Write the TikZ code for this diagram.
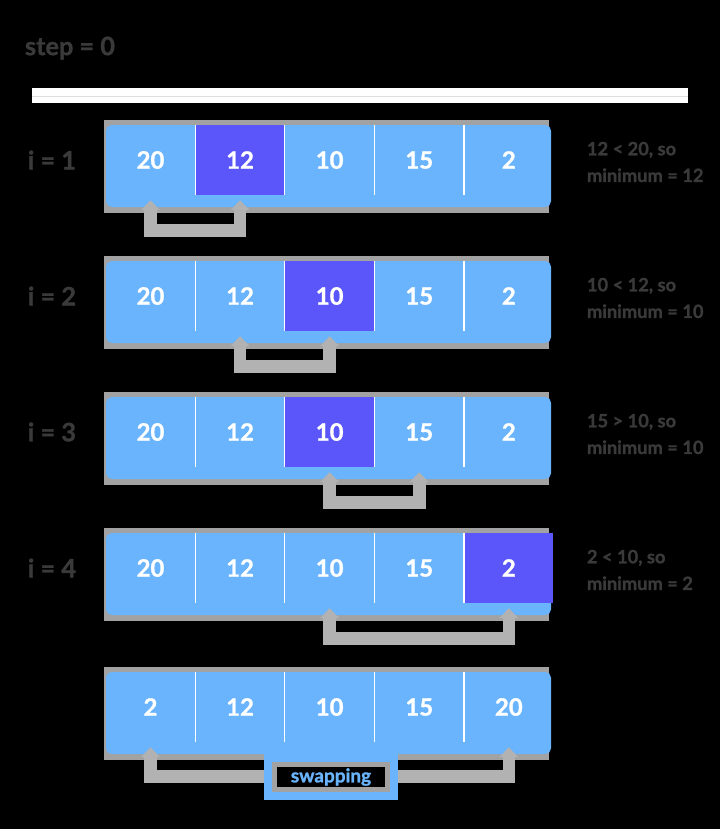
\documentclass[tikz,border=0pt]{standalone}
\usepackage{fontspec}
\setmainfont{Lato}[BoldFeatures={FakeBold=1.2}]
\usepackage{tikz}
\usetikzlibrary{arrows.meta,positioning}
\usepackage{xcolor}

\definecolor{cellblue}{HTML}{6AB4FD}
\definecolor{minpurple}{HTML}{5A56F9}
\definecolor{shadowgray}{HTML}{A2A2A2}
\definecolor{arrowgray}{HTML}{B2B2B2}
\definecolor{labelgray}{HTML}{3A3A3A}

\tikzset{
  cell/.style={minimum width=2.225cm,minimum height=1.75cm,inner sep=0pt,text=white,font=\bfseries\fontsize{17}{20}\selectfont},
  mincell/.style={cell,fill=minpurple},
  rowlabel/.style={text=labelgray,font=\bfseries\fontsize{18}{22}\selectfont},
  note/.style={text=labelgray,align=left,anchor=west,font=\bfseries\fontsize{13}{19}\selectfont},
  sep/.style={white,line width=0.8pt},
  cmp/.style={arrowgray,line width=9pt,{Triangle[length=7pt,width=13pt]}-{Triangle[length=7pt,width=13pt]},shorten <=3.5pt,shorten >=3.5pt},
  swapbox/.style={fill=black,draw=shadowgray,line width=3.6pt,minimum width=2.825cm,minimum height=0.625cm,inner sep=0pt,text=cellblue,font=\bfseries\fontsize{13.5}{16}\selectfont},
}

\begin{document}
\begin{tikzpicture}[x=0.025cm,y=-0.025cm,line cap=butt]
\fill[black] (0,0) rectangle (720,829);
\useasboundingbox (0,0) rectangle (720,829);

% heading
\node[rowlabel] (steptitle) at (70,48) {step = 0};
\fill[white] (32,88) rectangle (688,103);
\draw[gray!25] (32,96) -- (688,96);

% i = 1
\fill[shadowgray] (104,120) rectangle (549,213);
\fill[cellblue,rounded corners=4pt] (106,125) rectangle (551,207);
\node[cell] (r1c1) at (150.5,160) {20};
\node[mincell,right=0pt of r1c1] (r1c2) {12};
\node[cell,right=0pt of r1c2] (r1c3) {10};
\node[cell,right=0pt of r1c3] (r1c4) {15};
\node[cell,right=0pt of r1c4] (r1c5) {2};
\draw[sep] (r1c1.north east) -- (r1c1.south east) (r1c2.north east) -- (r1c2.south east)
  (r1c3.north east) -- (r1c3.south east) (r1c4.north east) -- (r1c4.south east);
\node[rowlabel] (lab1) at (52,160) {i = 1};
\node[note] (note1) at (582,162) {12 < 20, so\\minimum = 12};
\draw[cmp] (r1c1.south) -- ++(0,35) -| (r1c2.south);

% i = 2
\fill[shadowgray] (104,256) rectangle (549,349);
\fill[cellblue,rounded corners=4pt] (106,261) rectangle (551,343);
\node[cell] (r2c1) at (150.5,296) {20};
\node[cell,right=0pt of r2c1] (r2c2) {12};
\node[mincell,right=0pt of r2c2] (r2c3) {10};
\node[cell,right=0pt of r2c3] (r2c4) {15};
\node[cell,right=0pt of r2c4] (r2c5) {2};
\draw[sep] (r2c1.north east) -- (r2c1.south east) (r2c2.north east) -- (r2c2.south east)
  (r2c3.north east) -- (r2c3.south east) (r2c4.north east) -- (r2c4.south east);
\node[rowlabel] (lab2) at (52,296) {i = 2};
\node[note] (note2) at (582,298) {10 < 12, so\\minimum = 10};
\draw[cmp] (r2c2.south) -- ++(0,35) -| (r2c3.south);

% i = 3
\fill[shadowgray] (104,392) rectangle (549,485);
\fill[cellblue,rounded corners=4pt] (106,397) rectangle (551,479);
\node[cell] (r3c1) at (150.5,432) {20};
\node[cell,right=0pt of r3c1] (r3c2) {12};
\node[mincell,right=0pt of r3c2] (r3c3) {10};
\node[cell,right=0pt of r3c3] (r3c4) {15};
\node[cell,right=0pt of r3c4] (r3c5) {2};
\draw[sep] (r3c1.north east) -- (r3c1.south east) (r3c2.north east) -- (r3c2.south east)
  (r3c3.north east) -- (r3c3.south east) (r3c4.north east) -- (r3c4.south east);
\node[rowlabel] (lab3) at (52,432) {i = 3};
\node[note] (note3) at (582,434) {15 > 10, so\\minimum = 10};
\draw[cmp] (r3c3.south) -- ++(0,35) -| (r3c4.south);

% i = 4
\fill[shadowgray] (104,528) rectangle (549,621);
\fill[cellblue,rounded corners=4pt] (106,533) rectangle (551,615);
\node[cell] (r4c1) at (150.5,568) {20};
\node[cell,right=0pt of r4c1] (r4c2) {12};
\node[cell,right=0pt of r4c2] (r4c3) {10};
\node[cell,right=0pt of r4c3] (r4c4) {15};
\node[mincell,right=0pt of r4c4] (r4c5) {2};
\draw[sep] (r4c1.north east) -- (r4c1.south east) (r4c2.north east) -- (r4c2.south east)
  (r4c3.north east) -- (r4c3.south east) (r4c4.north east) -- (r4c4.south east);
\node[rowlabel] (lab4) at (52,568) {i = 4};
\node[note] (note4) at (582,570) {2 < 10, so\\minimum = 2};
\draw[cmp] (r4c3.south) -- ++(0,35) -| (r4c5.south);

% after the swap
\fill[shadowgray] (104,667) rectangle (549,760);
\fill[cellblue,rounded corners=4pt] (106,672) rectangle (551,754);
\node[cell] (r5c1) at (150.5,707) {2};
\node[cell,right=0pt of r5c1] (r5c2) {12};
\node[cell,right=0pt of r5c2] (r5c3) {10};
\node[cell,right=0pt of r5c3] (r5c4) {15};
\node[cell,right=0pt of r5c4] (r5c5) {20};
\draw[sep] (r5c1.north east) -- (r5c1.south east) (r5c2.north east) -- (r5c2.south east)
  (r5c3.north east) -- (r5c3.south east) (r5c4.north east) -- (r5c4.south east);
\draw[cmp] (r5c1.south) -- ++(0,34) -| (r5c5.south);
\fill[cellblue] (264,753) rectangle (398,800);
\node[swapbox] (swp) at (331,777) {swapping};
\end{tikzpicture}
\end{document}
